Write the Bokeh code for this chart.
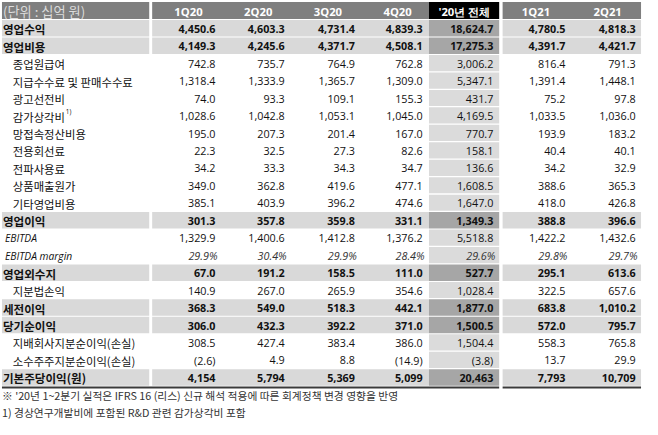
from bokeh.plotting import figure
from bokeh.models import Range1d, ColumnDataSource
from bokeh.embed import file_html
from bokeh.resources import INLINE
from bokeh.core.properties import value

# ---------------- data ----------------
unit_label = "(단위 : 십억 원)"
columns = ["1Q20", "2Q20", "3Q20", "4Q20", "'20년 전체", "1Q21", "2Q21"]
row_labels = ["영업수익", "영업비용", "종업원급여", "지급수수료 및 판매수수료", "광고선전비",
              "감가상각비", "망접속정산비용", "전용회선료", "전파사용료", "상품매출원가",
              "기타영업비용", "영업이익", "EBITDA", "EBITDA margin", "영업외수지", "지분법손익",
              "세전이익", "당기순이익", "지배회사지분순이익(손실)", "소수주주지분순이익(손실)",
              "기본주당이익(원)"]
q1_20 = [4450.6, 4149.3, 742.8, 1318.4, 74.0, 1028.6, 195.0, 22.3, 34.2, 349.0, 385.1,
         301.3, 1329.9, 29.9, 67.0, 140.9, 368.3, 306.0, 308.5, -2.6, 4154]
q2_20 = [4603.3, 4245.6, 735.7, 1333.9, 93.3, 1042.8, 207.3, 32.5, 33.3, 362.8, 403.9,
         357.8, 1400.6, 30.4, 191.2, 267.0, 549.0, 432.3, 427.4, 4.9, 5794]
q3_20 = [4731.4, 4371.7, 764.9, 1365.7, 109.1, 1053.1, 201.4, 27.3, 34.3, 419.6, 396.2,
         359.8, 1412.8, 29.9, 158.5, 265.9, 518.3, 392.2, 383.4, 8.8, 5369]
q4_20 = [4839.3, 4508.1, 762.8, 1309.0, 155.3, 1045.0, 167.0, 82.6, 34.7, 477.1, 474.6,
         331.1, 1376.2, 28.4, 111.0, 354.6, 442.1, 371.0, 386.0, -14.9, 5099]
fy_20 = [18624.7, 17275.3, 3006.2, 5347.1, 431.7, 4169.5, 770.7, 158.1, 136.6, 1608.5, 1647.0,
         1349.3, 5518.8, 29.6, 527.7, 1028.4, 1877.0, 1500.5, 1504.4, -3.8, 20463]
q1_21 = [4780.5, 4391.7, 816.4, 1391.4, 75.2, 1033.5, 193.9, 40.4, 34.2, 388.6, 418.0,
         388.8, 1422.2, 29.8, 295.1, 322.5, 683.8, 572.0, 558.3, 13.7, 7793]
q2_21 = [4818.3, 4421.7, 791.3, 1448.1, 97.8, 1036.0, 183.2, 40.1, 32.9, 365.3, 426.8,
         396.6, 1432.6, 29.7, 613.6, 657.6, 1010.2, 795.7, 765.8, 29.9, 10709]
bold_rows = [0, 1, 11, 14, 16, 17, 20]
italic_rows = [12, 13]
pct_rows = [13]
int_rows = [20]
footnotes = ["※ '20년 1~2분기 실적은 IFRS 16 (리스) 신규 해석 적용에 따른 회계정책 변경 영향을 반영",
             "1) 경상연구개발비에 포함된 R&D 관련 감가상각비 포함"]
series = [q1_20, q2_20, q3_20, q4_20, fy_20, q1_21, q2_21]

# ---------------- layout (pixel-like units) ----------------
W, H = 642, 419
X0, X1 = 3.5, 657.5
Y0, Y1 = 6.0, 434.0
S = min(W / (X1 - X0), H / (Y1 - Y0))
def fs(v):
    return f"{v * S:.2f}px"

HEAD_TOP, HEAD_BOT = 7.5, 26.0
RH = 17.83
LBL = (5, 155)
DATA = (158, 440)
TOT = (440, 511.5)
R21 = (515, 656)
val_right = [222.5, 293, 364.5, 433.5, 505.5, 579, 650.5]
head_x = [195, 266, 337, 408, 476, 549, 622]

GRAY_HEAD = "#7f7f7f"
LIGHT = "#d9d9d9"
DARK = "#a6a6a6"
TOT_LIGHT = "#dbdbdb"
TXT = "#111111"
KR = "Noto Sans CJK KR"

p = figure(width=W, height=H, x_range=Range1d(X0, X1), y_range=Range1d(Y1, Y0),
           output_backend="svg", toolbar_location=None, min_border=0,
           x_axis_location=None, y_axis_location=None)
p.grid.visible = False
p.outline_line_color = None
p.background_fill_color = "white"
p.border_fill_color = "white"

def row_top(i):
    return HEAD_TOP if i < 0 else HEAD_BOT + RH * i

def row_bot(i):
    return HEAD_BOT if i < 0 else HEAD_BOT + RH * (i + 1)

def row_mid(i):
    return (row_top(i) + row_bot(i)) / 2

# backgrounds
q = dict(left=[], right=[], top=[], bottom=[], color=[])
def add(l, r, i, c, gap=1.0):
    q["left"].append(l); q["right"].append(r)
    q["top"].append(row_top(i)); q["bottom"].append(row_bot(i) - gap)
    q["color"].append(c)

add(LBL[0], LBL[1], -1, GRAY_HEAD)
add(DATA[0], DATA[1], -1, GRAY_HEAD)
add(TOT[0], TOT[1], -1, "#000000")
add(R21[0], R21[1], -1, GRAY_HEAD)
for i in range(len(row_labels)):
    if i in bold_rows:
        add(LBL[0], LBL[1], i, LIGHT)
        add(DATA[0], DATA[1], i, LIGHT)
        add(TOT[0], TOT[1], i, DARK)
        add(R21[0], R21[1], i, LIGHT)
    else:
        add(TOT[0], TOT[1], i, TOT_LIGHT, gap=1.3)
p.quad(left="left", right="right", top="top", bottom="bottom", color="color",
       line_color=None, source=ColumnDataSource(q))

# bottom rule
yb = row_bot(len(row_labels) - 1) + 0.8
p.segment(x0=[LBL[0], R21[0]], x1=[TOT[1], R21[1]], y0=[yb, yb], y1=[yb, yb],
          line_color="#3a3a3a", line_width=2)

# header texts
p.text(x=[6], y=[row_mid(-1) + 0.5], text=[unit_label], text_font=value(KR),
       text_font_size=fs(13.5), text_color="#dcdcdc", text_baseline="middle")
p.text(x=head_x, y=[row_mid(-1)] * len(columns), text=columns,
       text_font=value("Open Sans"), text_font_size=fs(11.5), text_font_style="bold",
       text_color="white", text_align="center", text_baseline="middle")

# labels
for st in ["bold", "normal", "italic"]:
    d = dict(x=[], y=[], t=[])
    for i, name in enumerate(row_labels):
        sti = "bold" if i in bold_rows else ("italic" if i in italic_rows else "normal")
        if sti != st:
            continue
        d["x"].append(6 if st == "bold" else (8 if st == "italic" else 16))
        d["y"].append(row_mid(i) + (0.5 if st != "italic" else 0))
        d["t"].append(name)
    fnt = "Open Sans" if st == "italic" else KR
    size = {"bold": 11.8, "normal": 11.6, "italic": 10.5}[st]
    p.text(x="x", y="y", text="t", source=ColumnDataSource(d),
           text_font=value(fnt), text_font_size=fs(size),
           text_font_style=st, text_color=TXT, text_baseline="middle")
# superscript
p.text(x=[70], y=[row_mid(5) - 4.5], text=["1)"], text_font=value("Open Sans"),
       text_font_size=fs(6.5), text_color=TXT, text_baseline="middle")

# values
def fmt(v, i):
    if i in pct_rows:
        return f"{v:.1f}%"
    s = f"{abs(v):,.0f}" if i in int_rows else f"{abs(v):,.1f}"
    return f"({s})" if v < 0 else s

for st in ["bold", "normal", "italic"]:
    d = dict(x=[], y=[], t=[])
    for c, ser in enumerate(series):
        for i, v in enumerate(ser):
            sti = "bold" if i in bold_rows else ("italic" if i in pct_rows else "normal")
            if sti != st:
                continue
            d["x"].append(val_right[c] + (2 if st == "italic" else 0))
            d["y"].append(row_mid(i))
            d["t"].append(fmt(v, i))
    p.text(x="x", y="y", text="t", source=ColumnDataSource(d),
           text_font=value("Open Sans"), text_font_size=fs(11),
           text_font_style=st, text_color=TXT if st != "italic" else "#333333",
           text_align="right", text_baseline="middle")

# footnotes
p.text(x=[5, 5], y=[409.5, 427], text=footnotes, text_font=value(KR),
       text_font_size=fs(11), text_color="#333333", text_baseline="middle")

open("out.html", "w").write(file_html(p, INLINE))
